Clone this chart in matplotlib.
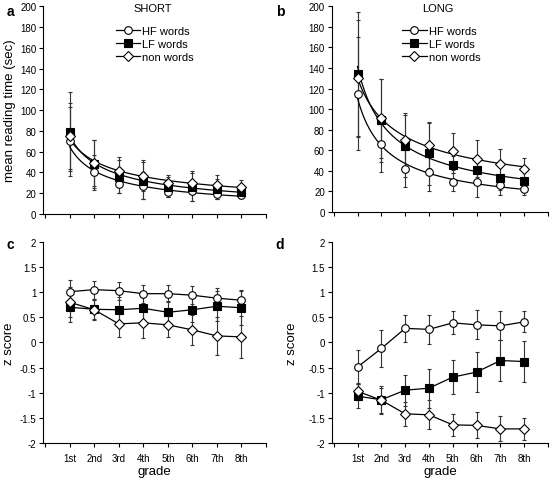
import numpy as np
import matplotlib.pyplot as plt
from matplotlib.lines import Line2D

plt.rcParams['font.family'] = ['Liberation Sans', 'DejaVu Sans']

grades = ['1st', '2nd', '3rd', '4th', '5th', '6th', '7th', '8th']
x = np.arange(1, 9)

# mean reading time (sec), SHORT
short_hf = [70, 40, 29, 27, 21, 22, 19, 18]
short_hf_sd = [33, 17, 9, 13, 5, 9, 5, 3]
short_lf = [79, 48, 36, 32, 26, 26, 24, 21]
short_lf_sd = [38, 23, 16, 18, 10, 13, 10, 6]
short_nw = [75, 49, 41, 37, 30, 30, 28, 26]
short_nw_sd = [32, 22, 14, 15, 8, 11, 10, 7]

# mean reading time (sec), LONG
long_hf = [115, 66, 42, 39, 29, 29, 26, 22]
long_hf_sd = [55, 27, 18, 19, 9, 14, 9, 5]
long_lf = [134, 89, 64, 57, 46, 41, 33, 30]
long_lf_sd = [60, 40, 30, 31, 8, 13, 12, 9]
long_nw = [130, 91, 70, 65, 59, 52, 47, 42]
long_nw_sd = [57, 38, 26, 22, 18, 18, 14, 11]

# z scores, SHORT
zs_hf = [1.01, 1.05, 1.03, 0.97, 0.97, 0.94, 0.88, 0.84]
zs_hf_sd = [0.24, 0.18, 0.18, 0.18, 0.17, 0.18, 0.21, 0.19]
zs_lf = [0.70, 0.66, 0.65, 0.68, 0.60, 0.65, 0.72, 0.69]
zs_lf_sd = [0.30, 0.20, 0.25, 0.28, 0.22, 0.25, 0.30, 0.35]
zs_nw = [0.80, 0.65, 0.37, 0.39, 0.35, 0.25, 0.13, 0.11]
zs_nw_sd = [0.30, 0.20, 0.26, 0.30, 0.24, 0.30, 0.38, 0.42]

# z scores, LONG
zl_hf = [-0.49, -0.12, 0.28, 0.26, 0.39, 0.35, 0.33, 0.41]
zl_hf_sd = [0.33, 0.36, 0.27, 0.29, 0.23, 0.29, 0.29, 0.21]
zl_lf = [-1.07, -1.14, -0.95, -0.91, -0.69, -0.59, -0.36, -0.38]
zl_lf_sd = [0.24, 0.28, 0.31, 0.39, 0.34, 0.39, 0.41, 0.41]
zl_nw = [-0.97, -1.15, -1.42, -1.44, -1.64, -1.65, -1.72, -1.72]
zl_nw_sd = [0.17, 0.25, 0.24, 0.29, 0.22, 0.26, 0.25, 0.22]

labels = ['HF words', 'LF words', 'non words']
styles = [dict(marker='o', mfc='white', ms=5.5),
          dict(marker='s', mfc='black', ms=5.5),
          dict(marker='D', mfc='white', ms=5.0)]

fig = plt.figure(figsize=(5.53, 4.81), dpi=100)
ax_a = fig.add_axes([0.078, 0.553, 0.403, 0.432])
ax_b = fig.add_axes([0.600, 0.557, 0.391, 0.428])
ax_c = fig.add_axes([0.078, 0.077, 0.403, 0.418])
ax_d = fig.add_axes([0.600, 0.077, 0.391, 0.418])


def style_axis(ax, ylim, yticks, bottom):
    for s in ['top', 'right']:
        ax.spines[s].set_visible(False)
    for s in ['left', 'bottom']:
        ax.spines[s].set_linewidth(0.8)
    ax.set_xlim(-0.08, 9)
    ax.set_xticks(range(0, 10))
    if bottom:
        ax.set_xticklabels([''] + grades + [''])
        ax.set_xlabel('grade', fontsize=9.5, labelpad=2)
    else:
        ax.set_xticklabels([''] * 10)
    ax.set_ylim(*ylim)
    ax.set_yticks(yticks)
    ax.tick_params(direction='out', length=3, width=0.8, labelsize=7, pad=2)
    ax.tick_params(axis='x', pad=4)


def draw_fit_panel(ax, series, title):
    for (m, sd), st in zip(series, styles):
        ax.errorbar(x, m, yerr=sd, fmt='none', ecolor='#333333',
                    elinewidth=0.8, capsize=1.2, capthick=0.8, zorder=1)
        # power-law fit through the means
        b, a = np.polyfit(np.log(x), np.log(m), 1)
        xf = np.linspace(1, 8, 200)
        ax.plot(xf, np.exp(a) * xf ** b, color='black', lw=0.9, zorder=2)
        ax.plot(x, m, ls='none', color='black', mec='black', mew=0.8,
                zorder=3, **st)
    handles = [Line2D([0], [0], color='black', lw=0.9, mec='black', mew=0.8, **st)
               for st in styles]
    ax.legend(handles, labels, loc='upper left', bbox_to_anchor=(0.30, 0.93),
              frameon=False, fontsize=8, handlelength=2.2, handletextpad=0.2,
              labelspacing=0.25, borderpad=0)
    ax.text(0.49, 0.99, title, transform=ax.transAxes, ha='center', va='center',
            fontsize=8)


def draw_z_panel(ax, series):
    for (m, sd), st in zip(series, styles):
        ax.errorbar(x, m, yerr=sd, fmt='none', ecolor='#333333',
                    elinewidth=0.8, capsize=1.2, capthick=0.8, zorder=1)
        ax.plot(x, m, color='black', lw=0.9, mec='black', mew=0.8,
                zorder=3, **st)


draw_fit_panel(ax_a, [(short_hf, short_hf_sd), (short_lf, short_lf_sd),
                      (short_nw, short_nw_sd)], 'SHORT')
draw_fit_panel(ax_b, [(long_hf, long_hf_sd), (long_lf, long_lf_sd),
                      (long_nw, long_nw_sd)], 'LONG')
draw_z_panel(ax_c, [(zs_hf, zs_hf_sd), (zs_lf, zs_lf_sd), (zs_nw, zs_nw_sd)])
draw_z_panel(ax_d, [(zl_hf, zl_hf_sd), (zl_lf, zl_lf_sd), (zl_nw, zl_nw_sd)])

style_axis(ax_a, (0, 200), range(0, 201, 20), False)
style_axis(ax_b, (0, 200), range(0, 201, 20), False)
zt = [-2, -1.5, -1, -0.5, 0, 0.5, 1, 1.5, 2]
style_axis(ax_c, (-2, 2), zt, True)
style_axis(ax_d, (-2, 2), zt, True)
for ax in [ax_c, ax_d]:
    ax.set_yticklabels(['-2', '-1.5', '-1', '-0.5', '0', '0.5', '1', '1.5', '2'])

ax_a.set_ylabel('mean reading time (sec)', fontsize=9.5)
ax_a.yaxis.set_label_coords(-0.12, 0.5)
ax_c.set_ylabel('z score', fontsize=9.5)
ax_c.yaxis.set_label_coords(-0.125, 0.5)
ax_d.set_ylabel('z score', fontsize=9.5)
ax_d.yaxis.set_label_coords(-0.157, 0.5)

for lab, (px, py) in zip('abcd', [(10, 12), (280, 12), (10, 245), (280, 245)]):
    fig.text(px / 553, 1 - py / 481, lab, fontsize=10, fontweight='bold',
             ha='center', va='center')

fig.savefig('out.png', dpi=100)
